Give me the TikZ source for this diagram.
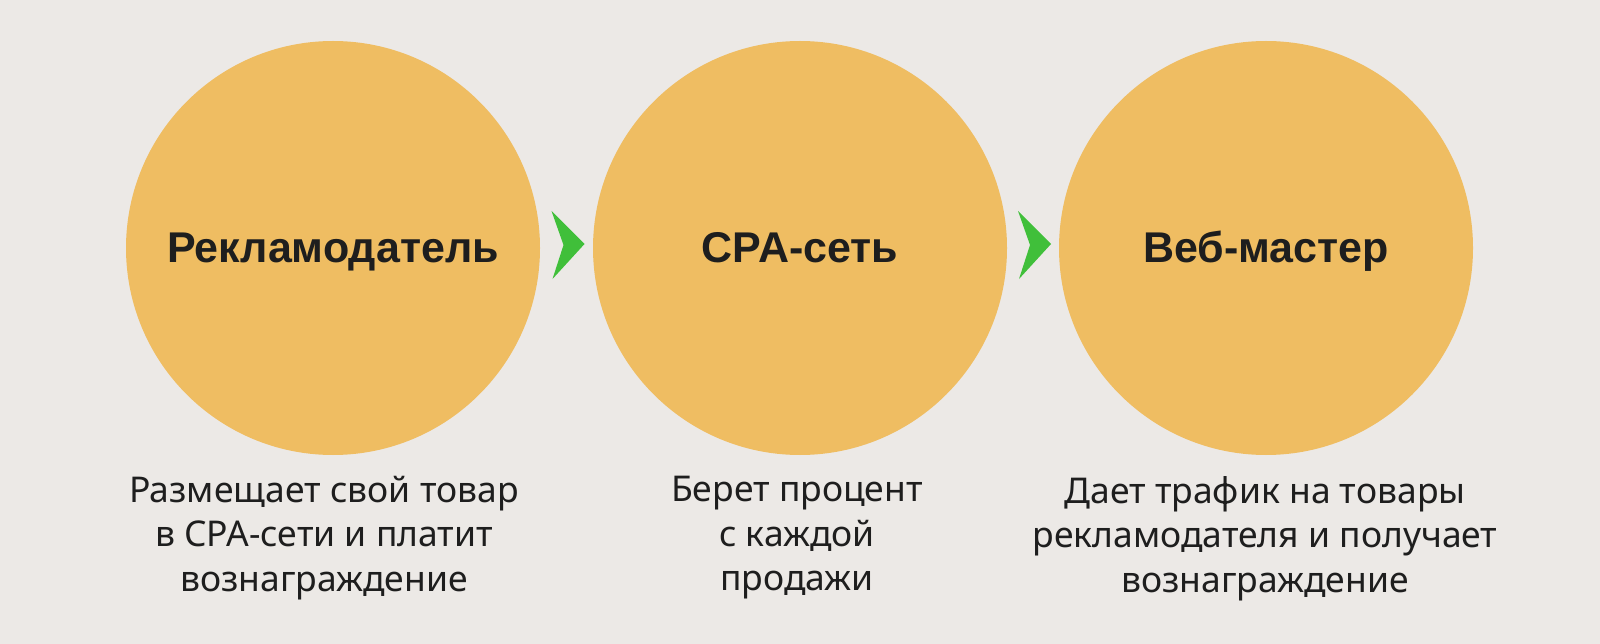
\documentclass[tikz,border=0pt]{standalone}
\usepackage{fontspec}
\setmainfont{Liberation Sans}
\newfontfamily\descfont{Noto Sans}
\usepackage{tikz}
\usetikzlibrary{positioning, calc}
\usepackage{xcolor}
\definecolor{bgcol}{RGB}{236,233,230}
\definecolor{ballcol}{RGB}{239,189,98}
\definecolor{chevgreen}{RGB}{64,191,58}
\definecolor{inkcol}{RGB}{30,30,30}
\tikzset{
  ball/.style={circle, fill=ballcol, minimum size=414pt, inner sep=0pt,
    text=inkcol, text height=30pt, text depth=0pt,
    font=\fontsize{43}{50}\selectfont\bfseries},
  desc/.style={align=center, anchor=north, inner sep=0pt, text=inkcol,
    font=\descfont\fontsize{35.5}{44.5}\selectfont},
  chev/.style={fill=chevgreen},
}

\begin{document}
\begin{tikzpicture}[x=1pt, y=-1pt]

  % ---- Background ----
  \fill[bgcol] (0,0) rectangle (1600,644);
  \useasboundingbox (0,0) rectangle (1600,644);

  % ---- Circles ----
  \node[ball] (adv) at (333,248) {Рекламодатель};
  \node[ball] (cpa) at (800,248) {CPA-сеть};
  \node[ball] (web) at (1266,248) {Веб-мастер};

  % ---- Chevrons ----
  \path (adv.east) -- (cpa.west) coordinate[pos=0.5] (m1);
  \path (cpa.east) -- (web.west) coordinate[pos=0.5] (m2);
  \fill[chev] ($(m1)+(-15,-37)$) -- ($(m1)+(18,-4)$)
        -- ($(m1)+(-14,31)$) -- ($(m1)+(-3,-3)$) -- cycle;
  \fill[chev] ($(m2)+(-15,-37)$) -- ($(m2)+(18,-4)$)
        -- ($(m2)+(-14,31)$) -- ($(m2)+(-3,-3)$) -- cycle;

  % ---- Descriptions ----
  \node[desc] (advtxt) at (324,476)
        {Размещает свой товар\\в CPA-сети и платит\\вознаграждение};
  \node[desc] (cpatxt) at (797,476)
        {Берет процент\\с каждой\\продажи};
  \node[desc] (webtxt) at (1265,476)
        {Дает трафик на товары\\рекламодателя и получает\\вознаграждение};
\end{tikzpicture}
\end{document}
